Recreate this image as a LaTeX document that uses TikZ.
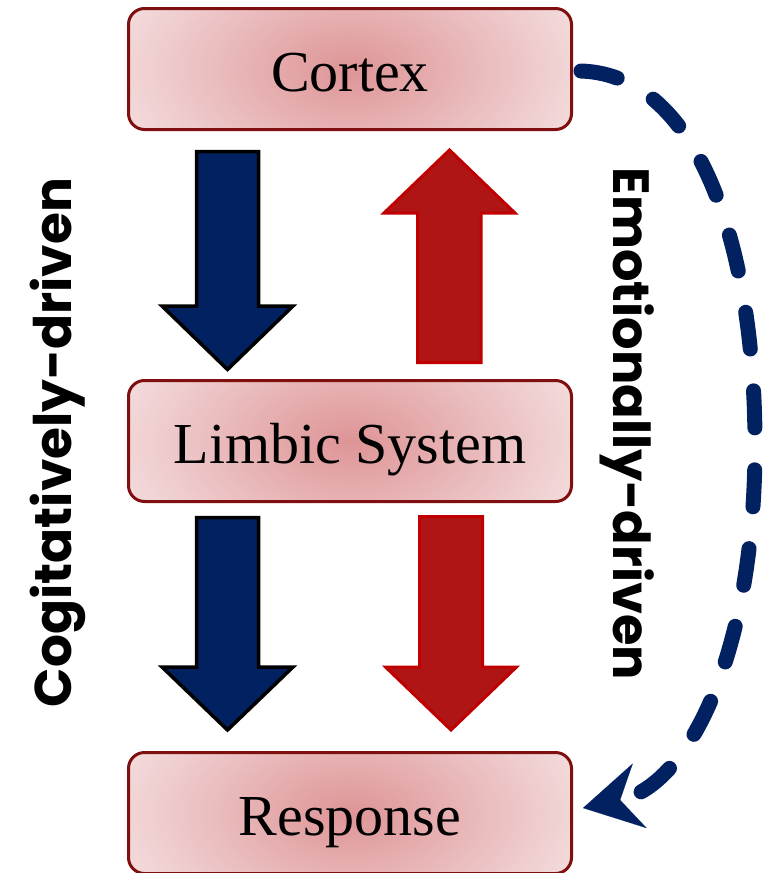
\documentclass[tikz,border=0pt]{standalone}
\usepackage{fontspec}
\setmainfont{Liberation Serif}
\newfontfamily\sidefont{Poppins}
\usetikzlibrary{arrows.meta}

\definecolor{boxedge}{RGB}{128,16,16}
\definecolor{pinkin}{RGB}{222,148,150}
\definecolor{pinkout}{RGB}{243,218,219}
\definecolor{navy}{RGB}{2,33,96}
\definecolor{blockred}{RGB}{176,21,21}
\definecolor{redline}{RGB}{192,0,0}

\tikzset{
  stagebox/.style={draw=boxedge, line width=3pt, rounded corners=16pt,
    fill=pinkout,
    path picture={\shade[inner color=pinkin, outer color=pinkout]
      (path picture bounding box.center) ellipse (236pt and 140pt);},
    minimum width=443pt, minimum height=121pt, inner sep=0pt,
    text height=50pt, text depth=6pt,
    font=\fontsize{58}{60}\selectfont},
  bluearrow/.style={fill=navy, draw=black, line width=3.5pt, line join=miter},
  redarrow/.style={fill=blockred, draw=redline, line width=3pt, line join=miter},
  flowline/.style={draw=navy, line width=15pt, line cap=round,
    dash pattern=on 37pt off 42pt},
  sidelabel/.style={inner sep=0pt, anchor=base}
}

\begin{document}
\begin{tikzpicture}[x=1pt, y=-1pt]
  \useasboundingbox (0,0) rectangle (764,873);

  % the three stages
  \node[stagebox] (cortex)   at (350,69)  {Cortex};
  \node[stagebox] (limbic)   at (350,441) {Limbic System};
  \node[stagebox] (response) at (350,813) {Response};

  % cognitive route: downward block arrows
  \draw[bluearrow] (196.5,151.5) -- (258.5,151.5) -- (258.5,306) -- (293,306)
    -- (227.5,369.5) -- (162,306) -- (196.5,306) -- cycle;
  \draw[bluearrow] (196.5,517.5) -- (258.5,517.5) -- (258.5,667) -- (293,667)
    -- (227.5,730) -- (162,667) -- (196.5,667) -- cycle;

  % emotional route: upward and downward block arrows
  \draw[redarrow] (449.5,150) -- (515,213) -- (481,213) -- (481,362.5)
    -- (417.5,362.5) -- (417.5,213) -- (384,213) -- cycle;
  \draw[redarrow] (419.5,516.5) -- (482.5,516.5) -- (482.5,667) -- (516.5,667)
    -- (451,730) -- (385.5,667) -- (419.5,667) -- cycle;

  % direct emotional shortcut from cortex to response
  \coordinate (bend) at (755,445);
  \draw[flowline,
        -{Stealth[length=58pt, width=66pt, inset=20pt, line width=0.1pt]}]
    ([xshift=8pt,yshift=-2pt]cortex.east)
    .. controls (700,75) and (755,250) .. (bend)
    .. controls (755,650) and (690,785) .. ([xshift=10pt,yshift=5pt]response.east);

  % side labels
  \node[sidelabel, rotate=90] (cog) at (71,442.5)
    {\resizebox{529pt}{!}{\sidefont\bfseries Cogitatively-driven}};
  \node[sidelabel, rotate=-90] (emo) at (613,424)
    {\resizebox{512pt}{!}{\sidefont\bfseries Emotionally-driven}};
\end{tikzpicture}
\end{document}
